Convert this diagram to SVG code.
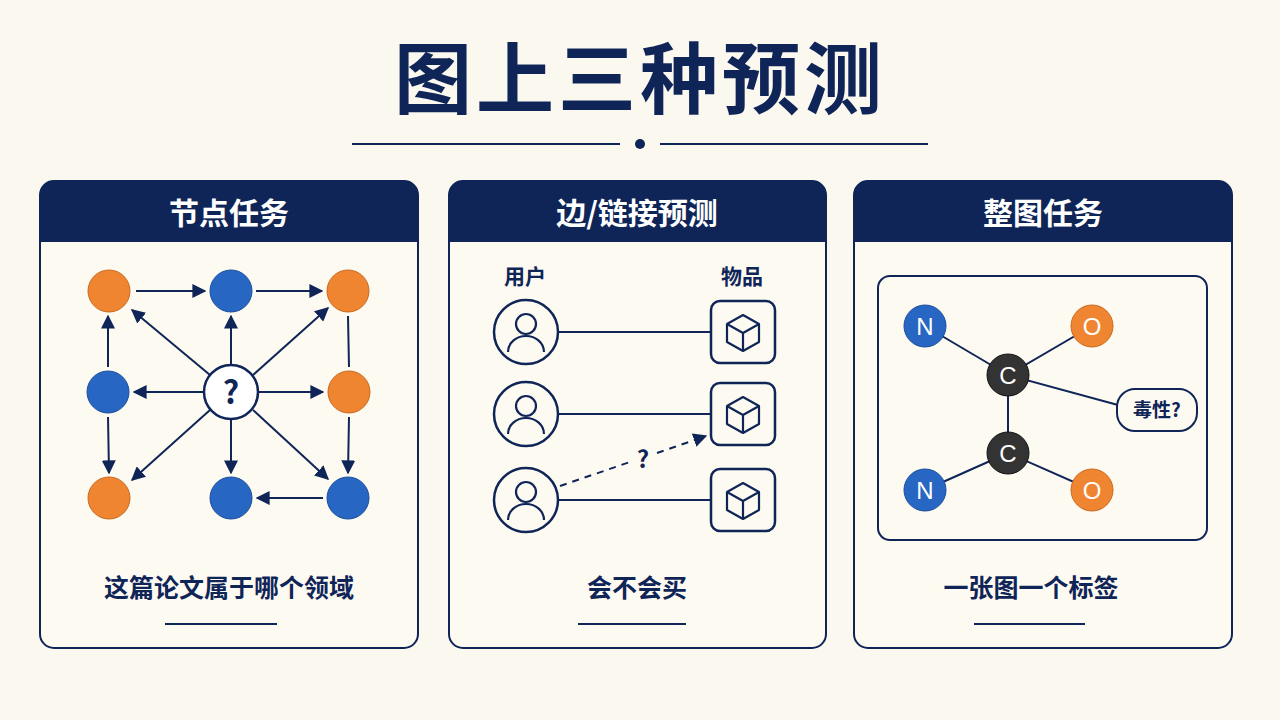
<svg xmlns="http://www.w3.org/2000/svg" width="1280" height="720" viewBox="0 0 1280 720">
<defs>
<style>
.t{font-family:"Noto Sans CJK SC","Noto Sans",sans-serif;font-weight:700;fill:#0f2558}
.h{font-family:"Noto Sans CJK SC","Noto Sans",sans-serif;font-weight:700;fill:#fff;font-size:30px;text-anchor:middle}
.panel{fill:#fdfaf2;stroke:#0f2558;stroke-width:2}
.hd{fill:#0f2558}
.e{stroke:#0f2558;stroke-width:2;fill:none}
.or{fill:#ef8530;stroke:#c96a20;stroke-width:1}
.bl{fill:#2766c2;stroke:#1b4f9c;stroke-width:1}
.wl{fill:#fff;stroke:#0f2558;stroke-width:2.5}
.atom{font-family:"Liberation Sans",sans-serif;font-size:24px;fill:#fff;text-anchor:middle}
</style>
<marker id="ar" viewBox="0 0 10 10" refX="9" refY="5" markerWidth="7" markerHeight="7" orient="auto-start-reverse"><path d="M0,0 L10,5 L0,10 z" fill="#0f2558"/></marker>
</defs>
<rect width="1280" height="720" fill="#fbf8f0"/>
<text class="t" x="640" y="108" font-size="78" text-anchor="middle" letter-spacing="4">图上三种预测</text>
<line x1="352" y1="144" x2="620" y2="144" stroke="#0f2558" stroke-width="2"/>
<line x1="660" y1="144" x2="928" y2="144" stroke="#0f2558" stroke-width="2"/>
<circle cx="640" cy="144" r="5" fill="#0f2558"/>

<g id="panel1">
<rect class="panel" x="40" y="181" width="378" height="467" rx="14"/>
<path class="hd" d="M40,242 V195 a14,14 0 0 1 14,-14 H404 a14,14 0 0 1 14,14 V242 Z"/>
<text class="h" x="229" y="224">节点任务</text>
<text class="t" x="229" y="597" font-size="25" text-anchor="middle">这篇论文属于哪个领域</text>
<line x1="165" y1="624" x2="277" y2="624" stroke="#0f2558" stroke-width="2"/>
</g>
<g id="panel2">
<rect class="panel" x="449" y="181" width="377" height="467" rx="14"/>
<path class="hd" d="M449,242 V195 a14,14 0 0 1 14,-14 H812 a14,14 0 0 1 14,14 V242 Z"/>
<text class="h" x="637" y="224">边/链接预测</text>
<text class="t" x="637" y="597" font-size="25" text-anchor="middle">会不会买</text>
<line x1="578" y1="624" x2="686" y2="624" stroke="#0f2558" stroke-width="2"/>
<text class="t" x="525" y="284" font-size="21" text-anchor="middle">用户</text>
<text class="t" x="742" y="284" font-size="21" text-anchor="middle">物品</text>
</g>
<g id="panel3">
<rect class="panel" x="854" y="181" width="378" height="467" rx="14"/>
<path class="hd" d="M854,242 V195 a14,14 0 0 1 14,-14 H1218 a14,14 0 0 1 14,14 V242 Z"/>
<text class="h" x="1043" y="224">整图任务</text>
<text class="t" x="1031" y="597" font-size="25" text-anchor="middle">一张图一个标签</text>
<line x1="974" y1="624" x2="1085" y2="624" stroke="#0f2558" stroke-width="2"/>
<rect x="878" y="276" width="329" height="264" rx="12" fill="none" stroke="#0f2558" stroke-width="2"/>
</g>

<g id="connectors">
<g class="e" marker-end="url(#ar)">
<line x1="136" y1="291" x2="205" y2="291"/>
<line x1="256" y1="291" x2="322" y2="291"/>
<line x1="108" y1="367" x2="108" y2="316"/>
<line x1="108" y1="417" x2="109" y2="473"/>
<line x1="210" y1="375" x2="132" y2="310"/>
<line x1="231" y1="364" x2="231" y2="316"/>
<line x1="253" y1="375" x2="328" y2="308"/>
<line x1="203" y1="392" x2="134" y2="392"/>
<line x1="259" y1="392" x2="323" y2="392"/>
<line x1="210" y1="410" x2="132" y2="480"/>
<line x1="231" y1="420" x2="231" y2="473"/>
<line x1="253" y1="410" x2="328" y2="479"/>
<line x1="349" y1="417" x2="348" y2="473"/>
<line x1="323" y1="498" x2="257" y2="498"/>
</g>
<line class="e" x1="348" y1="316" x2="349" y2="367"/>
<line class="e" x1="558" y1="332" x2="711" y2="332"/>
<line class="e" x1="558" y1="414" x2="711" y2="414"/>
<line class="e" x1="558" y1="500" x2="711" y2="500"/>
<line class="e" x1="560" y1="486" x2="630" y2="462" stroke-dasharray="7,6"/>
<line class="e" x1="657" y1="453" x2="706" y2="436" stroke-dasharray="7,6" marker-end="url(#ar)"/>
<g class="e" stroke-width="2.5">
<line x1="925" y1="326" x2="1008" y2="375"/>
<line x1="1092" y1="326" x2="1008" y2="375"/>
<line x1="1008" y1="375" x2="1008" y2="453"/>
<line x1="925" y1="490" x2="1008" y2="453"/>
<line x1="1092" y1="490" x2="1008" y2="453"/>
<line x1="1008" y1="375" x2="1118" y2="405"/>
</g>
</g>

<g id="p1nodes">
<circle class="or" cx="109" cy="291" r="21"/>
<circle class="bl" cx="231" cy="291" r="21"/>
<circle class="or" cx="348" cy="291" r="21"/>
<circle class="bl" cx="108" cy="392" r="21"/>
<g id="qnode"><circle class="wl" cx="231" cy="392" r="27"/><text class="t" x="231" y="404" font-size="32" text-anchor="middle">?</text></g>
<circle class="or" cx="349" cy="392" r="21"/>
<circle class="or" cx="109" cy="498" r="21"/>
<circle class="bl" cx="231" cy="498" r="21"/>
<circle class="bl" cx="348" cy="498" r="21"/>
</g>

<defs>
<g id="user"><circle r="32" fill="#fdfaf2" stroke="#0f2558" stroke-width="2.5"/><circle cy="-8" r="10" fill="none" stroke="#0f2558" stroke-width="2.2"/><path d="M-18,20 a18,16 0 0 1 36,0" fill="none" stroke="#0f2558" stroke-width="2.2"/></g>
<g id="item"><rect x="-32" y="-31" width="64" height="62" rx="9" fill="#fdfaf2" stroke="#0f2558" stroke-width="2.5"/><path d="M0,-17 L16,-8 L16,10 L0,19 L-16,10 L-16,-8 Z M-16,-8 L0,1 L16,-8 M0,1 V19" fill="none" stroke="#0f2558" stroke-width="2.2" stroke-linejoin="round"/></g>
</defs>
<g id="p2nodes">
<use href="#user" x="526" y="332"/><use href="#user" x="526" y="414"/><use href="#user" x="526" y="500"/>
<use href="#item" x="743" y="332"/><use href="#item" x="743" y="414"/><use href="#item" x="743" y="500"/>
<text class="t" x="643" y="468" font-size="24" text-anchor="middle">?</text>
</g>

<g id="p3nodes">
<circle class="bl" cx="925" cy="326" r="21"/><text class="atom" x="925" y="335">N</text>
<circle class="or" cx="1092" cy="326" r="21"/><text class="atom" x="1092" y="335">O</text>
<circle cx="1008" cy="375" r="21" fill="#333" stroke="#111"/><text class="atom" x="1008" y="384">C</text>
<circle cx="1008" cy="453" r="21" fill="#333" stroke="#111"/><text class="atom" x="1008" y="462">C</text>
<circle class="bl" cx="925" cy="490" r="21"/><text class="atom" x="925" y="499">N</text>
<circle class="or" cx="1092" cy="490" r="21"/><text class="atom" x="1092" y="499">O</text>
<rect x="1117" y="389" width="80" height="42" rx="18" fill="#fdfaf2" stroke="#0f2558" stroke-width="2"/>
<text class="t" x="1157" y="417" font-size="19" text-anchor="middle" font-weight="500">毒性?</text>
</g>
</svg>
